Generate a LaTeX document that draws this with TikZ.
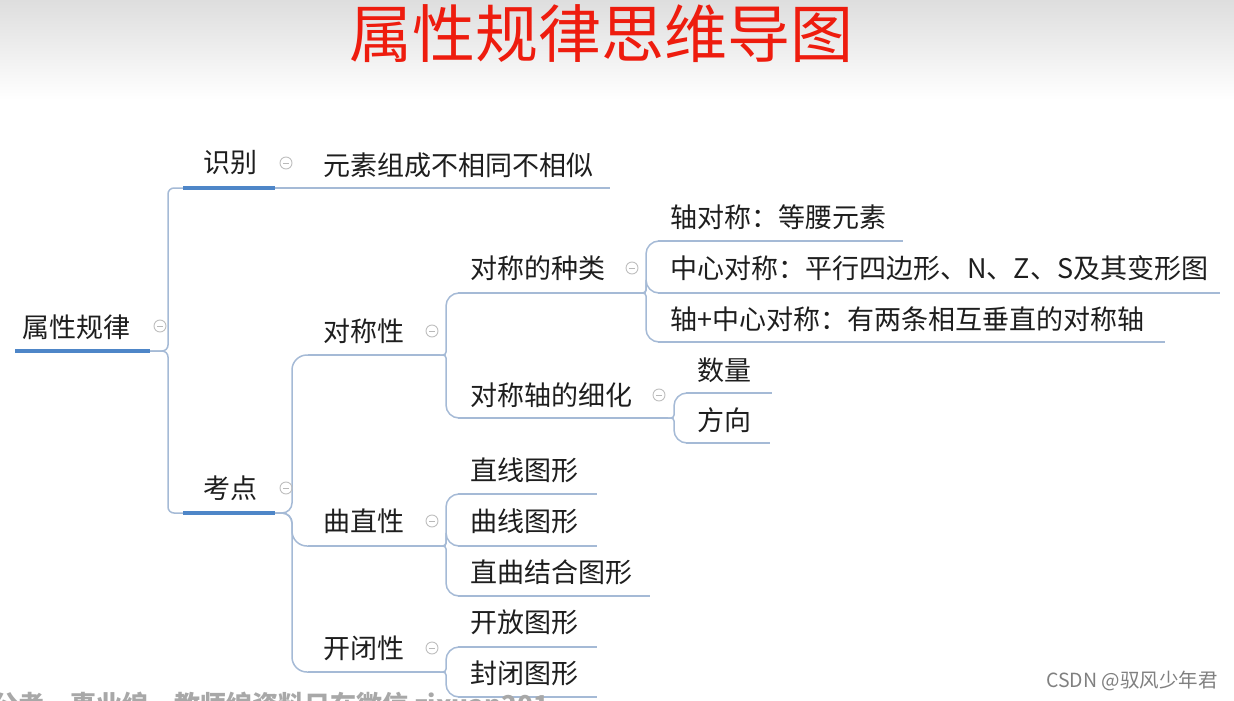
\documentclass[tikz,border=0pt]{standalone}
\usepackage{fontspec}
\setmainfont{Noto Sans CJK SC}
\definecolor{linec}{HTML}{A5BAD6}
\definecolor{thickc}{HTML}{4E86C8}
\definecolor{txt}{HTML}{1E1E1E}
\definecolor{titlered}{HTML}{EE1C0E}
\definecolor{wm}{HTML}{A8A8A8}
\begin{document}
\begin{tikzpicture}[x=1pt,y=-1pt,
  lbl/.style={anchor=west, inner sep=0pt, font=\fontsize{27}{30}\selectfont, text=txt},
  conn/.style={draw=linec, line width=1.5pt},
  uline/.style={draw=linec, line width=1.5pt},
  thickline/.style={draw=thickc, line width=4pt},
  fold/.style={circle, draw=gray!50, line width=0.9pt, minimum size=12pt, inner sep=0pt,
    path picture={\draw[gray!55, line width=0.9pt]
      ([xshift=-3pt]path picture bounding box.center) -- ([xshift=3pt]path picture bounding box.center);}}]
\useasboundingbox (0,0) rectangle (1234,701);
\fill[white] (0,0) rectangle (1234,701);
\shade[top color=black!13, bottom color=white] (0,0) rectangle (1234,100);

% title
\node[inner sep=0pt, font=\fontsize{63}{66}\selectfont, text=titlered] (title) at (601,34) {属性规律思维导图};

% ---------- coordinates of underlines ----------
\coordinate (root-l) at (15,351);   \coordinate (root-r) at (150,351);
\coordinate (sb-l) at (183,188);    \coordinate (sb-r) at (275,188);
\coordinate (ys-l) at (292,188);    \coordinate (ys-r) at (610,188);
\coordinate (kd-l) at (183,513);    \coordinate (kd-r) at (275,513);
\coordinate (dcx-l) at (308,355);   \coordinate (dcx-r) at (440,355);
\coordinate (zl-l) at (458,293);    \coordinate (zl-r) at (640,293);
\coordinate (zl1-l) at (658,241);   \coordinate (zl1-r) at (903,241);
\coordinate (zl2-l) at (658,293);   \coordinate (zl2-r) at (1220,293);
\coordinate (zl3-l) at (658,342);   \coordinate (zl3-r) at (1165,342);
\coordinate (xh-l) at (458,418);    \coordinate (xh-r) at (668,418);
\coordinate (sl-l) at (686,393);    \coordinate (sl-r) at (772,393);
\coordinate (fx-l) at (686,443);    \coordinate (fx-r) at (770,443);
\coordinate (qz-l) at (308,546);    \coordinate (qz-r) at (440,546);
\coordinate (zx-l) at (458,494);    \coordinate (zx-r) at (597,494);
\coordinate (qx-l) at (458,546);    \coordinate (qx-r) at (597,546);
\coordinate (zq-l) at (458,596);    \coordinate (zq-r) at (650,596);
\coordinate (kb-l) at (308,672);    \coordinate (kb-r) at (440,672);
\coordinate (kf-l) at (458,647);    \coordinate (kf-r) at (597,647);
\coordinate (fb-l) at (458,697);    \coordinate (fb-r) at (597,697);

% ---------- connectors ----------
\draw[conn, rounded corners=6pt] (root-r) -- (168,351) |- (sb-l);
\draw[conn, rounded corners=6pt] (root-r) -- (168,351) |- (kd-l);
\draw[conn] (sb-r) -- (ys-l);
\foreach \c in {dcx,qz,kb}
  \draw[conn] [rounded corners=10pt] (kd-r) -- (292,513) [rounded corners=15pt] |- (\c-l);
\foreach \c in {zl,xh}
  \draw[conn] [rounded corners=3pt] (dcx-r) -- (446,355) [rounded corners=13pt] |- (\c-l);
\foreach \c in {zl1,zl2,zl3}
  \draw[conn] [rounded corners=3pt] (zl-r) -- (646,293) [rounded corners=13pt] |- (\c-l);
\foreach \c in {sl,fx}
  \draw[conn] [rounded corners=3pt] (xh-r) -- (674,418) [rounded corners=13pt] |- (\c-l);
\foreach \c in {zx,qx,zq}
  \draw[conn] [rounded corners=3pt] (qz-r) -- (446,546) [rounded corners=13pt] |- (\c-l);
\foreach \c in {kf,fb}
  \draw[conn] [rounded corners=3pt] (kb-r) -- (446,672) [rounded corners=13pt] |- (\c-l);

% ---------- underlines ----------
\draw[thickline] (root-l) -- (root-r);
\draw[thickline] (sb-l) -- (sb-r);
\draw[thickline] (kd-l) -- (kd-r);
\foreach \n in {ys,dcx,zl,zl1,zl2,zl3,xh,sl,fx,qz,zx,qx,zq,kb,kf,fb}
  \draw[uline] (\n-l) -- (\n-r);

% ---------- labels ----------
\node[lbl] (root) at (22,327) {属性规律};
\node[lbl] (sb) at (203,163) {识别};
\node[lbl] (ys) at (323,165) {元素组成不相同不相似};
\node[lbl] (kd) at (203,488) {考点};
\node[lbl] (dcx) at (323,331) {对称性};
\node[lbl] (zl) at (470,268) {对称的种类};
\node[lbl] (zl1) at (670,217) {轴对称：等腰元素};
\node[lbl] (zl2) at (670,268) {中心对称：平行四边形、N、Z、S及其变形图};
\node[lbl] (zl3) at (670,319) {轴+中心对称：有两条相互垂直的对称轴};
\node[lbl] (xh) at (470,395) {对称轴的细化};
\node[lbl] (sl) at (697,370) {数量};
\node[lbl] (fx) at (697,420) {方向};
\node[lbl] (qz) at (323,521) {曲直性};
\node[lbl] (zx) at (470,470) {直线图形};
\node[lbl] (qx) at (470,521) {曲线图形};
\node[lbl] (zq) at (470,572) {直曲结合图形};
\node[lbl] (kb) at (323,648) {开闭性};
\node[lbl] (kf) at (470,622) {开放图形};
\node[lbl] (fb) at (470,673) {封闭图形};

% ---------- fold icons ----------
\node[fold] (f-root) at (160,326) {};
\node[fold] (f-sb) at (286,163) {};
\node[fold] (f-kd) at (286,488) {};
\node[fold] (f-dcx) at (432,331) {};
\node[fold] (f-zl) at (632,268) {};
\node[fold] (f-xh) at (659,395) {};
\node[fold] (f-qz) at (432,521) {};
\node[fold] (f-kb) at (432,648) {};

% ---------- watermarks ----------
\node[anchor=west, inner sep=0pt, font=\bfseries\fontsize{26}{28}\selectfont, text=wm] (wm1) at (-8,705) {公考、事业编、教师编资料只在微信 zixuan201};
\node[anchor=east, inner sep=0pt, font=\fontsize{19.5}{21}\selectfont, text=black!50] (wm2) at (1218,681) {CSDN @驭风少年君};
\end{tikzpicture}
\end{document}
